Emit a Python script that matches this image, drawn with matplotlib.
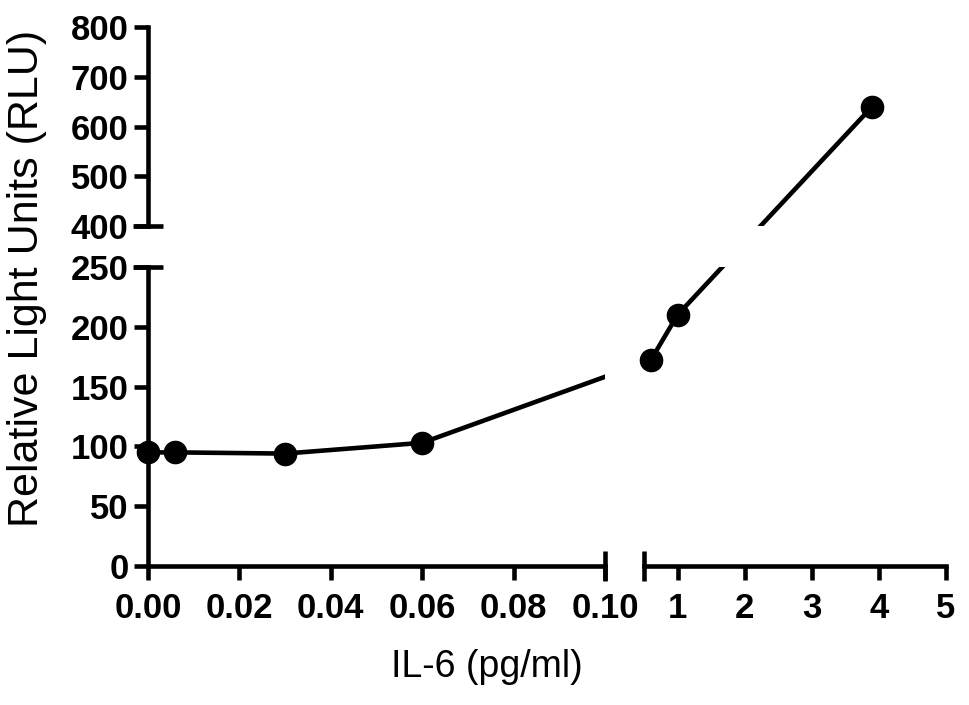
import matplotlib
matplotlib.use('Agg')
import matplotlib.pyplot as plt
import numpy as np

plt.rcParams['font.family'] = ['Liberation Sans', 'DejaVu Sans']

# IL-6 concentration (pg/ml) and luminescence (RLU)
il6 = [0.0, 0.006, 0.03, 0.06, 0.6, 1.0, 3.9]
rlu = [95, 95, 94, 103, 172, 210, 640]

low_xticks = [0.00, 0.02, 0.04, 0.06, 0.08, 0.10]
high_xticks = [1, 2, 3, 4, 5]
low_yticks = [0, 50, 100, 150, 200, 250]
high_yticks = [400, 500, 600, 700, 800]

W, H = 969, 705
fig = plt.figure(figsize=(W / 100, H / 100), dpi=100)

def box(x0, y0, x1, y1):
    # pixel box (top-left origin) -> figure fraction
    return [x0 / W, 1 - y1 / H, (x1 - x0) / W, (y1 - y0) / H]

ax_a = fig.add_axes(box(148, 267, 605, 566))   # low x, low y
ax_b = fig.add_axes(box(644, 267, 946, 566))   # high x, low y
ax_c = fig.add_axes(box(148, 27, 946, 226))    # upper y segment

ax_a.set_xlim(0, 0.1)
ax_a.set_ylim(0, 250)
ax_b.set_xlim(0.5, 5)
ax_b.set_ylim(0, 250)
ax_c.set_xlim(0, 1)
ax_c.set_ylim(400, 800)

lw = 3.3
tick_fs = 25
for ax in (ax_a, ax_b, ax_c):
    for s in ax.spines.values():
        s.set_visible(False)
        s.set_linewidth(lw)
    ax.patch.set_visible(False)
    ax.xaxis.remove_overlapping_locs = False
    ax.yaxis.remove_overlapping_locs = False
    ax.tick_params(width=lw, length=10, labelsize=tick_fs)
    ax.tick_params(axis='x', pad=9)
    ax.tick_params(axis='y', pad=4)

ax_a.spines['left'].set_visible(True)
ax_a.spines['bottom'].set_visible(True)
ax_a.set_xticks(low_xticks)
ax_a.set_xticklabels(['%.2f' % v for v in low_xticks], fontweight='bold')
ax_a.set_yticks(low_yticks)
ax_a.set_yticklabels([str(v) for v in low_yticks], fontweight='bold')
ax_a.set_xticks([0.1], minor=True)
ax_a.set_yticks([250], minor=True)

ax_b.spines['bottom'].set_visible(True)
ax_b.set_xticks(high_xticks)
ax_b.set_xticklabels([str(v) for v in high_xticks], fontweight='bold')
ax_b.set_yticks([])
ax_b.set_xticks([0.5], minor=True)

ax_c.spines['left'].set_visible(True)
ax_c.set_xticks([])
ax_c.set_yticks(high_yticks)
ax_c.set_yticklabels([str(v) for v in high_yticks], fontweight='bold')
ax_c.set_yticks([400], minor=True)

for ax in (ax_a, ax_b, ax_c):
    ax.tick_params(which='minor', direction='inout', length=22, width=lw)

# display position of every point, using the panel it belongs to
disp = []
owner = []
for x, y in zip(il6, rlu):
    xa = ax_a if x <= 0.1 else ax_b
    ya = xa if y <= 250 else ax_c
    px = xa.transData.transform((x, 0))[0]
    py = ya.transData.transform((0, y))[1]
    disp.append((px, py))
    owner.append(xa if y <= 250 else ax_c)
disp = np.array(disp)

# connecting line, straight in display space, clipped to each panel
for ax in (ax_a, ax_b, ax_c):
    d = ax.transData.inverted().transform(disp)
    ax.plot(d[:, 0], d[:, 1], color='black', lw=lw, clip_on=True, zorder=2)
    mine = [i for i in range(len(il6)) if owner[i] is ax]
    if mine:
        ax.plot(d[mine, 0], d[mine, 1], 'o', color='black', ms=16,
                clip_on=False, zorder=3)

fig.text(27 / W, 1 - 278 / H, 'Relative Light Units (RLU)', rotation=90,
         ha='center', va='center', fontsize=31)
fig.text(487 / W, 1 - 667 / H, 'IL-6 (pg/ml)', ha='center', va='center',
         fontsize=27)

fig.savefig('out.png', dpi=100)
